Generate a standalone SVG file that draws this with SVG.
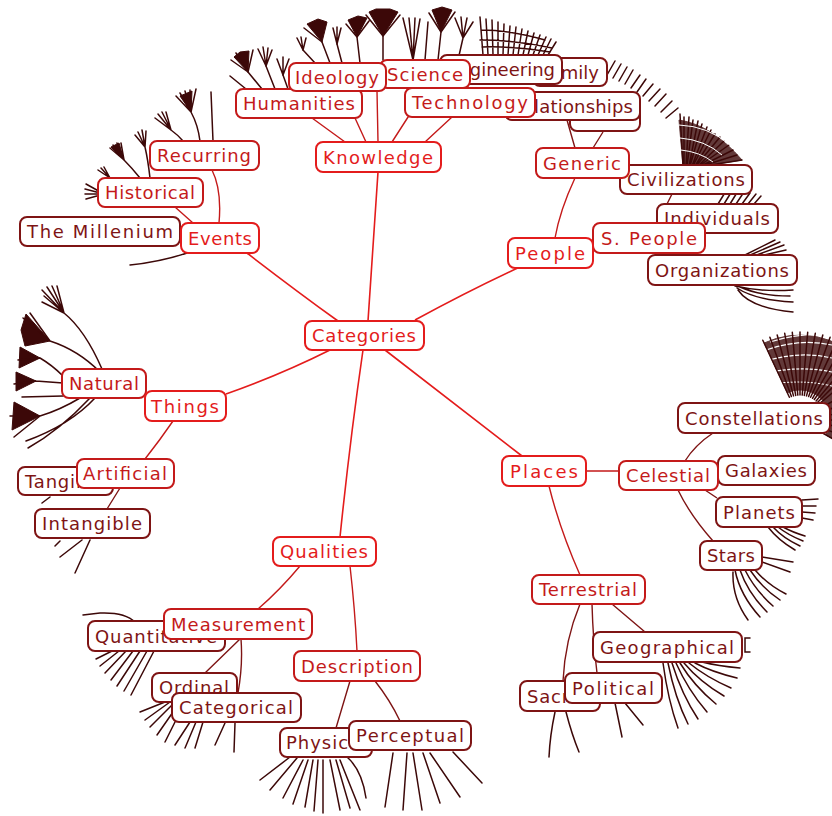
<svg xmlns="http://www.w3.org/2000/svg" width="832" height="816" viewBox="0 0 832 816">
<style>
text{font-family:"DejaVu Sans","Liberation Sans",sans-serif;font-size:18px;text-anchor:middle}
rect{fill:#fff;stroke-width:2}
.n1 rect{stroke:#e41c1c}.n1 text{fill:#e41c1c}
.n2 rect{stroke:#c41a1a}.n2 text{fill:#c41a1a}
.n3 rect{stroke:#7e1414}.n3 text{fill:#7e1414}
.e1{stroke:#e41c1c;stroke-width:1.6;fill:none}
.e2{stroke:#c41a1a;stroke-width:1.4;fill:none}
.e3{stroke:#7e1414;stroke-width:1.4;fill:none}
.f{stroke:#3c0808;stroke-width:1.5;fill:none;stroke-linecap:round}
.ff{fill:#3c0808;stroke:#3c0808;stroke-width:1}
</style>
<rect x="0" y="0" width="832" height="816" style="fill:#fff;stroke:none"/>

<g id="fans">
<path class="f" d="M383,60 L383,36 M438,60 L441,32 M330,63 L322,42 M360,63 L357,37 M342,63 L337,44 M315,63 L303,50 M262,89 L248,72 M275,89 L266,66 M288,89 L283,75 M230,76 L246,89"/>
<path class="ff" d="M383,36 L369,12 L376,9 L390,9 L398,12 Z M441,32 L432,10 L442,7 L452,10 Z M322,42 L307,24 L318,19 L327,22 Z M357,37 L348,20 L358,16 L367,18 Z M248,72 L234,57 L240,52 L249,51 Z"/>
<path class="f" d="M383,36 L366,15 M383,36 L400,15 M441,32 L429,13 M441,32 L455,12 M322,42 L304,28 M357,37 L346,24 M357,37 L369,21
M337,44 L333,28 M337,44 L337,27 M337,44 L341,28 M303,50 L297,38 M303,50 L301,37 M303,50 L306,38
M248,72 L231,60 M248,72 L236,53 M248,72 L253,50 M266,66 L258,49 M266,66 L263,47 M266,66 L268,48 M266,66 L272,50
M283,75 L277,59 M283,75 L283,57 M283,75 L289,59
M413,60 L403,18 M413,60 L409,18 M413,60 L415,18 M413,60 L420,19 M425,60 L428,22
M458,60 L463,38 M463,38 L455,18 M463,38 L461,17 M463,38 L467,18 M463,38 L473,22"/>
<path class="f" d="M483,55 L480,17 M488,55 L486,19 M493,55 L492,20 M498,55 L498,22 M503,55 L504,24 M508,55 L510,26 M513,55 L516,27 M518,55 L522,29 M523,55 L528,31 M528,55 L534,33 M533,55 L540,35 M538,55 L546,37 M543,55 L551,39 M548,55 L556,42 M480,40 Q515,40 552,48 M482,47 Q515,46 550,52 M481,30 Q510,30 545,40"/>
<path class="f" d="M607,75 L615,61 M613,78 L621,64 M619,81 L627,67 M625,84 L633,70 M631,88 L640,75 M637,92 L646,79 M643,96 L653,84 M649,101 L660,89 M655,106 L666,94 M661,112 L672,101 M666,118 L678,108"/>
<path class="ff" style="opacity:0.8" d="M683,166 L679,120 Q712,125 742,160 L705,166 Z"/>
<path class="f" d="M683,166 L680,114 M684,166 L684,117 M686,166 L689,117 M687,166 L693,120 M689,166 L698,121 M690,166 L702,124 M692,166 L707,127 M693,166 L711,130 M695,166 L715,134 M696,166 L720,137 M698,166 L724,141 M699,166 L729,145 M701,166 L733,150 M702,166 L737,155 M704,166 L742,160"/>
<path d="M679,125 Q708,126 730,145 M680,138 Q705,140 722,155 M681,150 Q700,152 713,162" style="stroke:#fff;stroke-width:1;fill:none"/>
<path class="f" d="M718,204 L726,191 M724,204 L732,191 M730,204 L738,191 M736,204 L744,192 M742,204 L750,193 M748,204 L756,194 M754,204 L761,196"/>
<path class="f" d="M743,256 L775,240 M748,256 L780,242 M754,256 L784,245 M760,256 L786,250"/>
<path class="f" d="M735,286 Q760,292 793,290 M737,288 Q755,300 793,302 M738,290 Q750,308 793,312 M740,287 Q760,296 790,296"/>
<path class="ff" style="opacity:0.8" d="M787.3,392.8 L764.1,343 A85,85 0 0 1 873.6,462.5 L826,435 A30,30 0 0 0 787.3,392.8 Z"/>
<path d="M766,350 Q800,338 832,345 M762,362 Q800,350 832,358 M760,374 Q800,365 832,372 M759,386 Q800,378 832,386 M770,342 Q800,332 832,335 M808,440 Q820,445 832,446 M806,448 Q820,454 832,456" style="stroke:#fff;stroke-width:1.2;fill:none"/>
<path class="f" d="M789.4,397.3 L762.8,340.2 M791.4,396.5 L769.9,337.3 M793.5,395.9 L777.2,335 M795.7,395.4 L784.7,333.3 M797.8,395.1 L792.3,332.3 M800,395 L800,332 M802.2,395.1 L807.7,332.3 M804.3,395.4 L815.3,333.3 M806.5,395.9 L822.8,335 M808.6,396.5 L830.1,337.3 M810.6,397.3 L837.2,340.2 M812.5,398.3 L844,343.8 M814.3,399.5 L850.5,347.9 M816.1,400.9 L856.6,352.6 M817.7,402.3 L862,357.8 M819.2,403.9 L867.4,363.4 M821.7,407.5 L876.2,376 M823.5,411.5 L882.7,389.9 M824.6,415.7 L886.7,404.7 M825,420 L888,420 M824.6,424.3 L886.7,435.3 M823.5,428.6 L882.7,450.1 M821.7,432.5 L876.2,464"/>
<path class="f" d="M802,500 L818,499 M802,506 L816,506 M802,512 L815,513 M802,518 L813,520 M768,527 Q778,540 795,550 M773,527 Q783,538 800,546 M778,527 Q788,535 803,541 M783,527 Q792,532 805,536"/>
<path class="f" d="M762,557 L793,562 M762,562 L790,572 M735,570 Q740,595 760,617 M740,570 Q748,593 767,612 M745,570 Q755,590 773,606 M750,570 Q762,588 780,600 M755,570 Q768,585 786,594 M733,572 Q732,598 748,620"/>
<path class="f" d="M663,663 Q668,700 678,728 M668,663 Q675,698 688,724 M672,663 Q682,695 698,719 M676,663 Q688,690 707,712 M680,663 Q694,686 716,704 M684,663 Q700,682 724,696 M689,663 Q706,677 731,688 M695,663 Q712,672 737,678 M702,662 Q718,666 740,668 M750,638 L745,638 L745,652 L750,652"/>
<path class="f" d="M615,703 L622,737 M625,703 L643,725 M555,712 Q550,735 549,757 M566,712 Q572,735 579,752"/>
<path class="f" d="M393,753 L385,807 M407,753 L403,810 M413,753 L422,810 M423,753 L440,803 M430,753 L460,797 M453,752 L482,783"/>
<path class="f" d="M290,757 L260,780 M297,758 L270,790 M303,760 L283,798 M308,760 L293,804 M313,760 L305,807 M318,760 L314,811 M323,760 L323,813 M330,760 L340,810 M336,760 L350,808 M340,760 L360,810 M347,757 Q362,770 366,798"/>
<path class="f" d="M225,723 L215,745 M235,723 L234,752"/>
<path class="f" d="M165,702 L140,712 M170,702 L145,720 M175,702 L150,727 M180,702 L157,735 M185,702 L165,742 M190,722 L175,745 M196,722 L185,748 M203,722 L195,748"/>
<path class="f" d="M112,651 L96,659 M119,651 L100,666 M126,651 L105,673 M133,651 L111,680 M140,651 L117,686 M147,651 L124,691 M154,651 L131,695 M83,615 L100,613 Q125,612 135,622"/>
<path class="f" d="M90,540 L75,573 M82,540 L60,557 M60,541 L55,546 M50,497 L42,503"/>
<path class="ff" d="M50,341 L26,314 L21,330 L25,346 Z M40,358 L20,347 L19,368 Z M36,381 L16,372 L16,391 Z M40,416 L14,402 L12,430 Z"/>
<path class="f" d="M64,313 Q85,330 102,369 M64,313 L42,290 M64,313 L47,287 M64,313 L52,286 M64,313 L57,286 M64,313 L44,296 M64,313 L42,302
M50,341 Q78,350 100,372 M50,341 L23,318 M50,341 L30,313 M40,358 Q52,365 63,376 M40,358 L18,360 M36,381 L63,383 M36,381 L14,384 M22,397 L63,396
M40,416 Q60,410 80,398 M40,416 L10,416 M40,416 L14,437 M95,398 Q70,425 26,441 M90,398 Q60,430 28,448"/>
<path class="f" d="M200,141 Q198,125 191,112 M191,112 L176,96 M191,112 L180,93 M191,112 L185,91 M191,112 L190,90 M191,112 L196,89 M213,141 L211,92
M183,141 Q178,135 171,130 M171,130 L155,118 M171,130 L158,114 M171,130 L162,112 M171,130 L166,112
M150,178 Q148,160 145,147 M145,147 L135,135 M145,147 L138,132 M145,147 L142,130 M145,147 L146,131
M140,178 Q132,168 124,160 M124,160 L110,148 M124,160 L113,145 M124,160 L117,143 M124,160 L121,143
M104,194 L86,184 M104,194 L85,189 M104,194 L85,194 M104,194 L86,199 M110,178 L98,170 M110,178 L101,168 M110,178 L104,167
M187,253 Q160,262 130,265"/>
<path class="ff" d="M191,112 L180,96 L192,91 Z M124,160 L111,147 L119,143 Z"/>
</g>

<g id="connectors">
<path class="e1" d="M368,321 Q373,250 378,172 M338,321 Q295,290 247,253 M415,320 Q470,290 522,266 M330,350 Q280,375 226,394 M385,350 Q450,400 522,456 M363,350 Q350,440 340,537"/>
<path class="e2" d="M345,142 L312,118 M366,142 L355,118 M378,142 L377,91 M392,142 L410,114 M425,142 L452,117 M219,223 Q222,190 212,170 M193,223 L175,207 M555,238 Q560,210 575,178 M173,421 Q160,440 145,459 M586,471 L619,471 M549,486 Q560,530 580,575 M300,566 Q280,590 258,609 M350,566 Q355,610 357,651"/>
<path class="e3" d="M575,148 L567,120 M593,148 L603,132 M672,194 L667,204 M120,488 L107,509 M685,461 Q695,445 713,433 M705,490 L717,498 M678,490 Q690,515 713,541 M612,604 L645,632 M592,604 Q593,640 597,673 M580,604 Q565,640 563,681 M240,639 L205,673 M241,639 Q243,665 238,693 M350,681 L336,728 M375,681 Q390,700 400,721"/>
</g>

<g id="hidden" class="n3"><rect x="570" y="103" width="70" height="28" rx="7"/></g>
<g id="relationships" class="n3"><rect x="505" y="92" width="135" height="28" rx="7"/><text x="572" y="113" textLength="122">Relationships</text></g>
<g id="family" class="n3"><rect x="533" y="58" width="74" height="28" rx="7"/><text x="570" y="79" textLength="58">Family</text></g>
<g id="engineering" class="n3"><rect x="440" y="55" width="122" height="29" rx="7"/><text x="501" y="76" textLength="108">Engineering</text></g>
<g id="civilizations" class="n3"><rect x="620" y="165" width="132" height="29" rx="7"/><text x="686" y="186" textLength="118">Civilizations</text></g>
<g id="individuals" class="n3"><rect x="657" y="204" width="121" height="29" rx="7"/><text x="717" y="225" textLength="106">Individuals</text></g>
<g id="organizations" class="n3"><rect x="648" y="255" width="149" height="30" rx="7"/><text x="722" y="277" textLength="134">Organizations</text></g>
<g id="millenium" class="n3"><rect x="20" y="217" width="160" height="29" rx="7"/><text x="100" y="238" textLength="146">The Millenium</text></g>
<g id="tangible" class="n3"><rect x="18" y="467" width="95" height="28" rx="7"/><text x="65" y="488" textLength="80">Tangible</text></g>
<g id="intangible" class="n3"><rect x="35" y="509" width="115" height="29" rx="7"/><text x="92" y="530" textLength="100">Intangible</text></g>
<g id="constellations" class="n3"><rect x="678" y="403" width="152" height="30" rx="7"/><text x="754" y="425" textLength="138">Constellations</text></g>
<g id="galaxies" class="n3"><rect x="718" y="456" width="97" height="29" rx="7"/><text x="766" y="477" textLength="82">Galaxies</text></g>
<g id="planets" class="n3"><rect x="716" y="497" width="86" height="30" rx="7"/><text x="759" y="519" textLength="72">Planets</text></g>
<g id="stars" class="n3"><rect x="700" y="541" width="62" height="29" rx="7"/><text x="731" y="562" textLength="48">Stars</text></g>
<g id="geographical" class="n3"><rect x="593" y="632" width="149" height="30" rx="7"/><text x="667" y="654" textLength="134">Geographical</text></g>
<g id="sacred" class="n3"><rect x="520" y="681" width="80" height="30" rx="7"/><text x="560" y="703" textLength="66">Sacred</text></g>
<g id="political" class="n3"><rect x="565" y="673" width="97" height="30" rx="7"/><text x="613" y="695" textLength="82">Political</text></g>
<g id="quantitative" class="n3"><rect x="88" y="621" width="137" height="30" rx="7"/><text x="156" y="643" textLength="122">Quantitative</text></g>
<g id="ordinal" class="n3"><rect x="152" y="673" width="85" height="29" rx="7"/><text x="194" y="694" textLength="70">Ordinal</text></g>
<g id="categorical" class="n3"><rect x="172" y="693" width="129" height="29" rx="7"/><text x="236" y="714" textLength="114">Categorical</text></g>
<g id="physical" class="n3"><rect x="280" y="728" width="92" height="29" rx="7"/><text x="326" y="749" textLength="80">Physical</text></g>
<g id="perceptual" class="n3"><rect x="349" y="721" width="122" height="29" rx="7"/><text x="410" y="742" textLength="108">Perceptual</text></g>

<g id="humanities" class="n2"><rect x="236" y="89" width="126" height="29" rx="7"/><text x="299" y="110" textLength="112">Humanities</text></g>
<g id="science" class="n2"><rect x="380" y="60" width="90" height="28" rx="7"/><text x="425" y="81" textLength="76">Science</text></g>
<g id="ideology" class="n2"><rect x="289" y="63" width="97" height="28" rx="7"/><text x="337" y="84" textLength="84">Ideology</text></g>
<g id="technology" class="n2"><rect x="405" y="88" width="130" height="29" rx="7"/><text x="470" y="109" textLength="116">Technology</text></g>
<g id="recurring" class="n2"><rect x="150" y="141" width="109" height="29" rx="7"/><text x="204" y="162" textLength="94">Recurring</text></g>
<g id="historical" class="n2"><rect x="98" y="178" width="105" height="29" rx="7"/><text x="150" y="199" textLength="90">Historical</text></g>
<g id="generic" class="n2"><rect x="536" y="148" width="93" height="30" rx="7"/><text x="582" y="170" textLength="78">Generic</text></g>
<g id="speople" class="n2"><rect x="593" y="223" width="112" height="30" rx="7"/><text x="649" y="245" textLength="96">S. People</text></g>
<g id="natural" class="n2"><rect x="62" y="369" width="84" height="29" rx="7"/><text x="104" y="390" textLength="70">Natural</text></g>
<g id="artificial" class="n2"><rect x="77" y="459" width="97" height="29" rx="7"/><text x="125" y="480" textLength="84">Artificial</text></g>
<g id="celestial" class="n2"><rect x="619" y="461" width="99" height="29" rx="7"/><text x="668" y="482" textLength="84">Celestial</text></g>
<g id="terrestrial" class="n2"><rect x="532" y="575" width="113" height="29" rx="7"/><text x="588" y="596" textLength="98">Terrestrial</text></g>
<g id="measurement" class="n2"><rect x="164" y="609" width="148" height="30" rx="7"/><text x="238" y="631" textLength="134">Measurement</text></g>
<g id="description" class="n2"><rect x="294" y="651" width="126" height="30" rx="7"/><text x="357" y="673" textLength="112">Description</text></g>

<g id="knowledge" class="n1"><rect x="316" y="142" width="125" height="30" rx="7"/><text x="378" y="164" textLength="110">Knowledge</text></g>
<g id="events" class="n1"><rect x="181" y="223" width="78" height="30" rx="7"/><text x="220" y="245" textLength="64">Events</text></g>
<g id="people" class="n1"><rect x="508" y="238" width="85" height="30" rx="7"/><text x="550" y="260" textLength="70">People</text></g>
<g id="things" class="n1"><rect x="145" y="391" width="81" height="30" rx="7"/><text x="185" y="413" textLength="68">Things</text></g>
<g id="places" class="n1"><rect x="502" y="456" width="84" height="30" rx="7"/><text x="544" y="478" textLength="68">Places</text></g>
<g id="qualities" class="n1"><rect x="273" y="537" width="103" height="29" rx="7"/><text x="324" y="558" textLength="88">Qualities</text></g>
<g id="categories" class="n1"><rect x="305" y="321" width="119" height="29" rx="7"/><text x="364" y="342" textLength="104">Categories</text></g>
</svg>
